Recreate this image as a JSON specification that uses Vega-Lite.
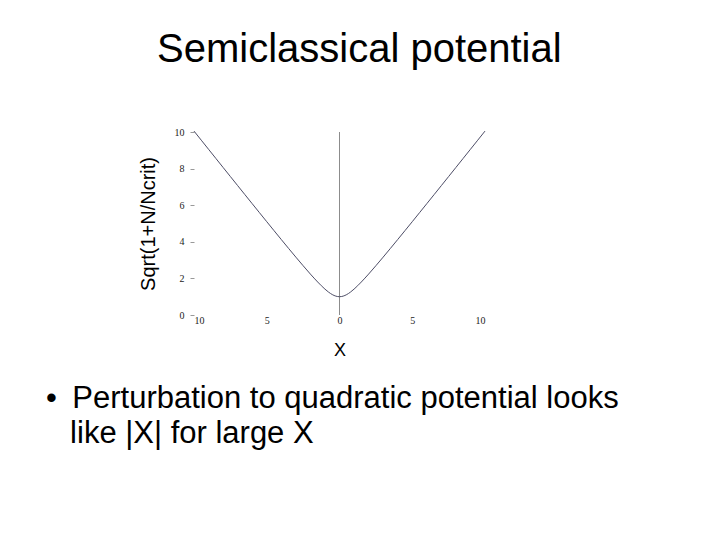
{
  "$schema": "https://vega.github.io/schema/vega-lite/v6.json",
  "background": "white",
  "padding": {"left": 46, "top": 30, "right": 5, "bottom": 5},
  "title": {
    "text": "Semiclassical potential",
    "anchor": "middle",
    "font": "Liberation Sans",
    "fontSize": 40,
    "fontWeight": "normal",
    "color": "black",
    "offset": 57,
    "dx": 27
  },
  "datasets": {
    "curve": [
      {"x": -10, "y": 10.05}, {"x": -9.5, "y": 9.552}, {"x": -9, "y": 9.055}, {"x": -8.5, "y": 8.559},
      {"x": -8, "y": 8.062}, {"x": -7.5, "y": 7.566}, {"x": -7, "y": 7.071}, {"x": -6.5, "y": 6.576},
      {"x": -6, "y": 6.083}, {"x": -5.5, "y": 5.59}, {"x": -5, "y": 5.099}, {"x": -4.5, "y": 4.61},
      {"x": -4, "y": 4.123}, {"x": -3.5, "y": 3.64}, {"x": -3, "y": 3.162}, {"x": -2.5, "y": 2.693},
      {"x": -2, "y": 2.236}, {"x": -1.75, "y": 2.016}, {"x": -1.5, "y": 1.803}, {"x": -1.25, "y": 1.601},
      {"x": -1, "y": 1.414}, {"x": -0.75, "y": 1.25}, {"x": -0.5, "y": 1.118}, {"x": -0.25, "y": 1.031},
      {"x": 0, "y": 1.0},
      {"x": 0.25, "y": 1.031}, {"x": 0.5, "y": 1.118}, {"x": 0.75, "y": 1.25}, {"x": 1, "y": 1.414},
      {"x": 1.25, "y": 1.601}, {"x": 1.5, "y": 1.803}, {"x": 1.75, "y": 2.016}, {"x": 2, "y": 2.236},
      {"x": 2.5, "y": 2.693}, {"x": 3, "y": 3.162}, {"x": 3.5, "y": 3.64}, {"x": 4, "y": 4.123},
      {"x": 4.5, "y": 4.61}, {"x": 5, "y": 5.099}, {"x": 5.5, "y": 5.59}, {"x": 6, "y": 6.083},
      {"x": 6.5, "y": 6.576}, {"x": 7, "y": 7.071}, {"x": 7.5, "y": 7.566}, {"x": 8, "y": 8.062},
      {"x": 8.5, "y": 8.559}, {"x": 9, "y": 9.055}, {"x": 9.5, "y": 9.552}, {"x": 10, "y": 10.05}
    ],
    "yaxis": [{"x": 0}]
  },
  "vconcat": [
    {
      "width": 291,
      "height": 183,
      "title": {
        "text": ["•\u2002Perturbation to quadratic potential looks", "\u200b\u2002\u00a0like |X| for large X"],
        "orient": "bottom",
        "anchor": "start",
        "font": "Liberation Sans",
        "fontSize": 31,
        "fontWeight": "normal",
        "color": "black",
        "lineHeight": 35,
        "offset": 25,
        "dx": -92
      },
      "layer": [
        {
          "data": {"name": "yaxis"},
          "mark": {"type": "rule", "color": "#8c8c8c", "strokeWidth": 1},
          "encoding": {
            "x": {"field": "x", "type": "quantitative", "scale": {"domain": [-10, 10], "nice": false}}
          }
        },
        {
          "data": {"name": "curve"},
          "mark": {"type": "line", "color": "#4d4d66", "strokeWidth": 1, "interpolate": "monotone", "clip": false},
          "encoding": {
            "x": {
              "field": "x", "type": "quantitative",
              "scale": {"domain": [-10, 10], "nice": false},
              "axis": {
                "title": "X",
                "values": [-10, -5, 0, 5, 10],
                "labelExpr": "toString(abs(datum.value))",
                "ticks": false,
                "domain": false,
                "labelPadding": 0,
                "titlePadding": 16,
                "titleFontSize": 18
              }
            },
            "y": {
              "field": "y", "type": "quantitative",
              "scale": {"domain": [0, 10], "nice": false},
              "axis": {
                "title": "Sqrt(1+N/Ncrit)",
                "values": [0, 2, 4, 6, 8, 10],
                "ticks": true,
                "tickSize": 4,
                "domain": false,
                "labelPadding": 6,
                "titlePadding": 16,
                "titleFontSize": 20
              }
            }
          }
        }
      ]
    }
  ],
  "config": {
    "view": {"stroke": null},
    "axis": {
      "grid": false,
      "labelFont": "Liberation Serif",
      "labelFontSize": 10,
      "labelColor": "#222222",
      "tickColor": "#999999",
      "titleFont": "Liberation Sans",
      "titleFontWeight": "normal",
      "titleColor": "black"
    }
  }
}
